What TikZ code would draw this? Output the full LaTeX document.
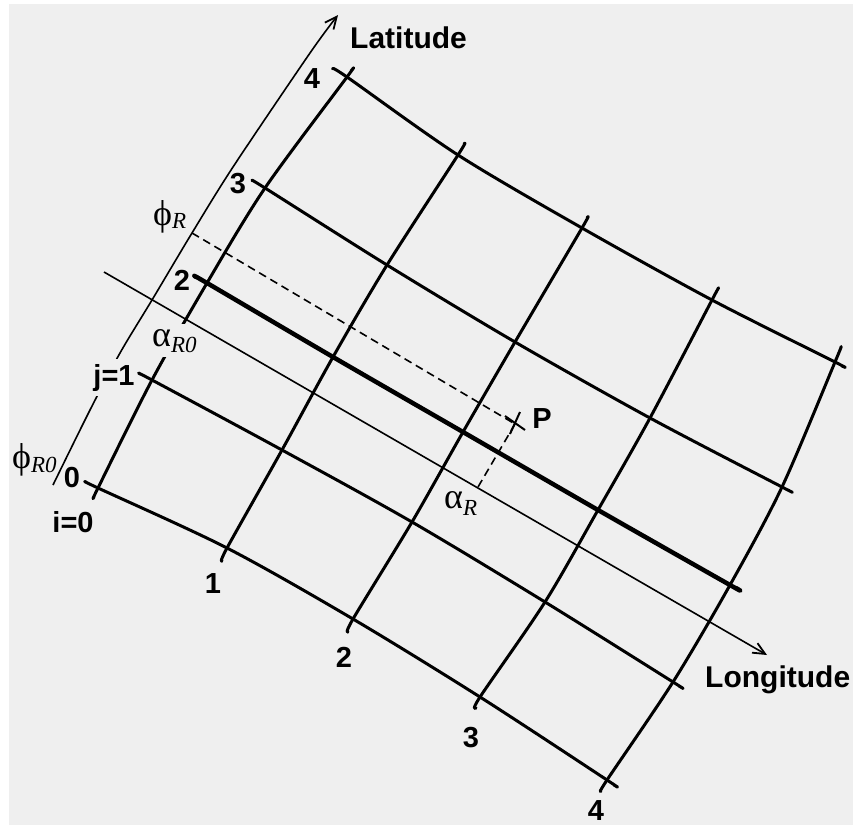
\documentclass[tikz,border=0pt]{standalone}
\usepackage{fontspec}
\setmainfont{Liberation Serif}
\setsansfont{Liberation Sans}
\usetikzlibrary{arrows.meta}
\definecolor{bggray}{RGB}{239,239,239}
\newcommand\mylab[4]{{\fontsize{#1}{#1}\selectfont #2}\raisebox{#4}{\fontsize{23}{23}\selectfont\itshape #3}}
\begin{document}
\begin{tikzpicture}[x=1pt,y=-1pt,
 gridline/.style={line width=3pt, line cap=round, line join=round},
 mainline/.style={line width=4.5pt, line cap=round, line join=round},
 axisline/.style={line width=1.6pt},
 dashline/.style={line width=1.6pt, dash pattern=on 8pt off 5pt},
 arr/.style={-{Straight Barb[length=12pt,width=11pt,line width=1.8pt]}},
 num/.style={font=\sffamily\bfseries\fontsize{29}{32}\selectfont, inner sep=0pt, anchor=base},
 big/.style={font=\sffamily\bfseries\fontsize{30}{34}\selectfont, inner sep=0pt, anchor=base west},
 sym/.style={inner sep=0pt, anchor=base west},
 hide/.style={fill=bggray, inner xsep=2pt, inner ysep=5pt},
]
\useasboundingbox (0,0) rectangle (855,825);
\fill[white] (0,0) rectangle (855,825);
\fill[bggray] (9,4) rectangle (853,825);

% grid points g<i><j>
\coordinate (g00) at (98,488);  \coordinate (g10) at (227,548); \coordinate (g20) at (353,619); \coordinate (g30) at (480,697); \coordinate (g40) at (607,780);
\coordinate (g01) at (152,380); \coordinate (g11) at (282,450); \coordinate (g21) at (412,522); \coordinate (g31) at (545,602); \coordinate (g41) at (673,682);
\coordinate (g02) at (207,283); \coordinate (g12) at (333,357); \coordinate (g22) at (463,432); \coordinate (g32) at (598,510); \coordinate (g42) at (730,585);
\coordinate (g03) at (265,188); \coordinate (g13) at (387,265); \coordinate (g23) at (515,342); \coordinate (g33) at (650,418); \coordinate (g43) at (782,487);
\coordinate (g04) at (347,77);  \coordinate (g14) at (458,155); \coordinate (g24) at (582,228); \coordinate (g34) at (712,300); \coordinate (g44) at (835,362);
% stubs
\coordinate (s0a) at (86,482);  \coordinate (s0b) at (614,785);
\coordinate (s1a) at (140,374); \coordinate (s1b) at (679,686);
\coordinate (s2a) at (196,277); \coordinate (s2b) at (736,588);
\coordinate (s3a) at (253,181); \coordinate (s3b) at (788,490);
\coordinate (s4a) at (333,69);  \coordinate (s4b) at (842,366);
\coordinate (t0a) at (94,497);  \coordinate (t0b) at (351,71);
\coordinate (t1a) at (222,561); \coordinate (t1b) at (464,144);
\coordinate (t2a) at (348,632); \coordinate (t2b) at (587,218);
\coordinate (t3a) at (476,708); \coordinate (t3b) at (718,289);
\coordinate (t4a) at (601,791); \coordinate (t4b) at (841,347);

% latitude lines j
\draw[gridline] plot[smooth] coordinates {(s0a) (g00) (g10) (g20) (g30) (g40) (s0b)};
\draw[gridline] plot[smooth] coordinates {(s1a) (g01) (g11) (g21) (g31) (g41) (s1b)};
\draw[mainline] plot[smooth] coordinates {(s2a) (g02) (g12) (g22) (g32) (g42) (s2b)};
\draw[gridline] plot[smooth] coordinates {(s3a) (g03) (g13) (g23) (g33) (g43) (s3b)};
\draw[gridline] plot[smooth] coordinates {(s4a) (g04) (g14) (g24) (g34) (g44) (s4b)};
% longitude lines i
\draw[gridline] plot[smooth] coordinates {(t0a) (g00) (g01) (g02) (g03) (g04) (t0b)};
\draw[gridline] plot[smooth] coordinates {(t1a) (g10) (g11) (g12) (g13) (g14) (t1b)};
\draw[gridline] plot[smooth] coordinates {(t2a) (g20) (g21) (g22) (g23) (g24) (t2b)};
\draw[gridline] plot[smooth] coordinates {(t3a) (g30) (g31) (g32) (g33) (g34) (t3b)};
\draw[gridline] plot[smooth] coordinates {(t4a) (g40) (g41) (g42) (g43) (g44) (t4b)};

% alpha_R0 label hides part of i=0 line
\node[sym, hide, anchor=base west] (aR0) at (150,346) {\mylab{36}{α}{R0}{-6pt}};

% axes
\coordinate (latS) at (53,485);
\coordinate (phiR) at (192,233);
\coordinate (latE) at (338,15);
\draw[axisline, arr] plot[smooth] coordinates {(latS) (90,410) (120,353) (152,300) (phiR) (233,167) (310,53) (latE)};
\coordinate (lonS) at (104,272);
\coordinate (lonE) at (767,655);
\draw[axisline, arr] (lonS) -- (lonE);

% point P and its projections
\coordinate (P) at (515,424);
\coordinate (aR) at (478,487);
\draw[dashline] (phiR) -- (P);
\draw[dashline] (P) -- (aR);
\draw[line width=2pt] (505,416) -- (525,430);
\draw[line width=2pt] (520,412) -- (510,434);

% labels
\node[big] (lat) at (350,48) {Latitude};
\node[big] (lon) at (705,687) {Longitude};
\node[num] (pl) at (542,428) {P};
\node[num] (j4) at (312,88) {4};
\node[num] (j3) at (238,193) {3};
\node[num] (j2) at (182,290) {2};
\node[num, fill=bggray, inner xsep=2pt, inner ysep=5pt] (j1) at (114,385) {j=1};
\node[num] (j0) at (72,487) {0};
\node[num] (i0) at (73,532) {i=0};
\node[num] (i1) at (213,593) {1};
\node[num] (i2) at (344,667) {2};
\node[num] (i3) at (471,747) {3};
\node[num] (i4) at (596,820) {4};
\node[sym] (pR) at (153,225) {\mylab{36}{ϕ}{R}{-3pt}};
\node[sym] (pR0) at (12,468) {\mylab{36}{ϕ}{R0}{-4pt}};
\node[sym] (alR) at (444,508) {\mylab{36}{α}{R}{-7pt}};
\end{tikzpicture}
\end{document}
